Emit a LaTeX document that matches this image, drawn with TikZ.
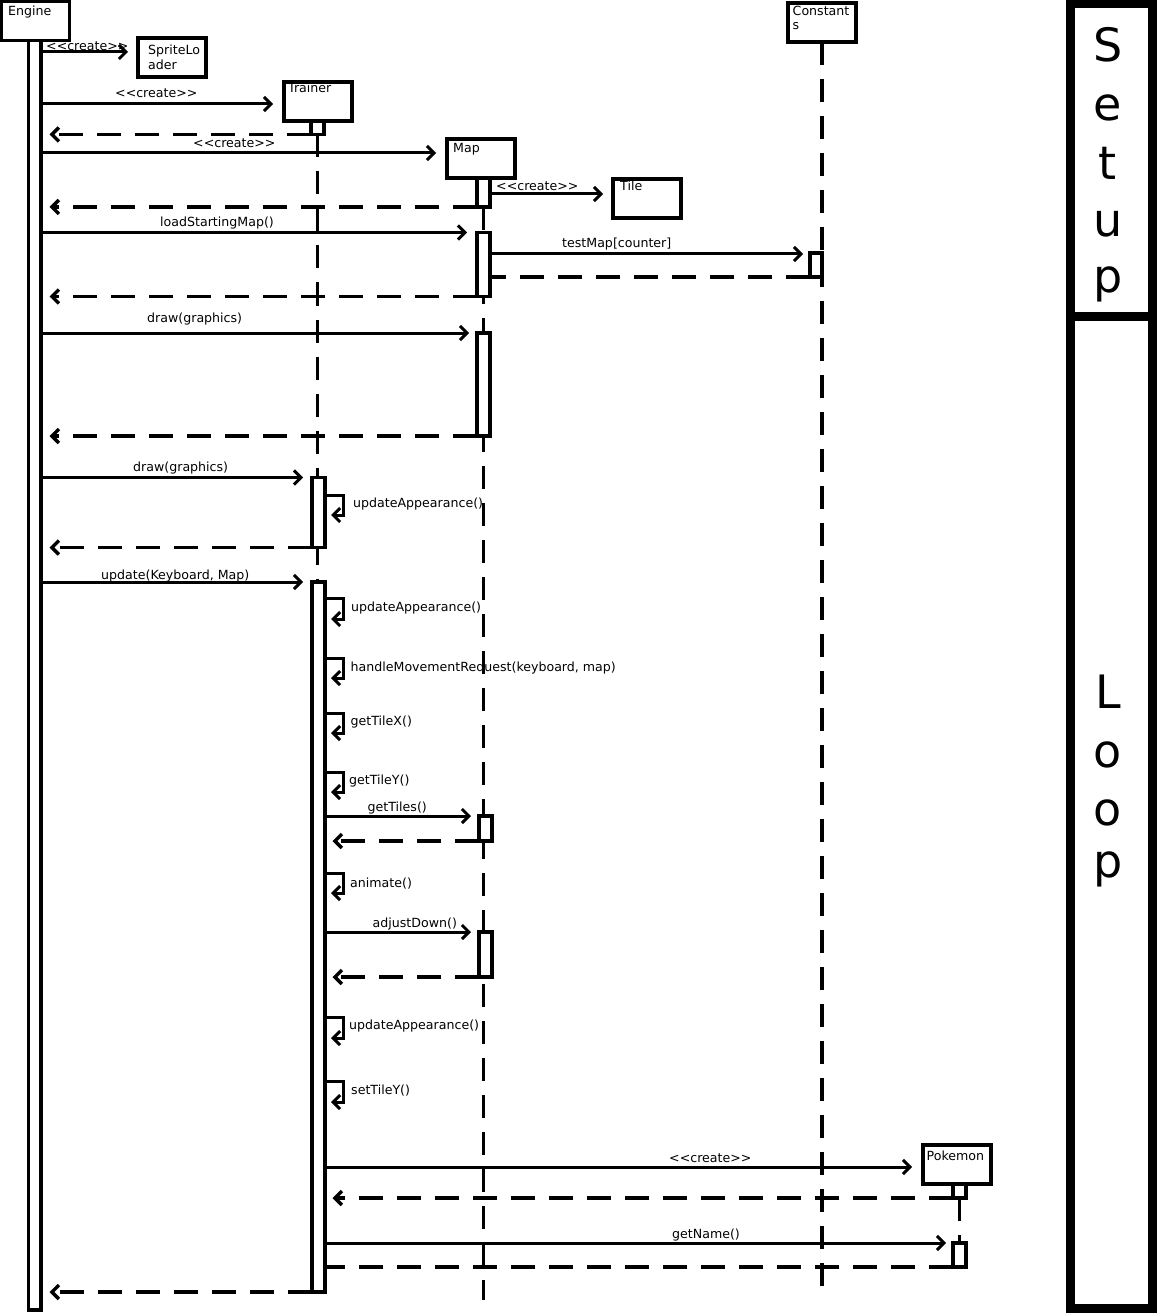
\documentclass[tikz,border=0pt]{standalone}
\usepackage{fontspec}
\setmainfont{DejaVu Sans}
\usetikzlibrary{arrows.meta}
\newcommand{\crt}{<{}<create>{}>}
\begin{document}
\begin{tikzpicture}[x=1pt,y=-1pt,
  obj/.style={draw, line width=3.5pt, fill=white, minimum width=68pt, minimum height=39pt, inner sep=0pt, outer sep=0pt, anchor=north west},
  act/.style={draw, line width=3.5pt, fill=white, minimum width=13pt, inner sep=0pt, outer sep=0pt, anchor=north west},
  msg/.style={line width=3pt, -{Straight Barb[length=7pt,width=14pt]}},
  ret/.style={line width=3.5pt, dash pattern=on 24pt off 14pt, -{Straight Barb[length=7pt,width=14pt]}},
  retn/.style={line width=3.5pt, dash pattern=on 24pt off 14pt},
  life/.style={line width=3.5pt, dash pattern=on 23pt off 14pt},
  lbl/.style={font=\fontsize{12.6}{15}\selectfont, inner sep=0pt, anchor=base west},
  big/.style={font=\fontsize{46}{50}\selectfont, inner sep=0pt, anchor=base},
  frame/.style={draw, line width=9pt, inner sep=0pt, outer sep=0pt, anchor=north west, minimum width=82pt}
]
\useasboundingbox (0,0) rectangle (1157,1313);

% ---------- object boxes (placed first so lifelines can refer to them)
\node[obj] (engine) at (1.5,1.5) {};
\node[obj] (sl) at (138,38) {};
\node[obj] (trainer) at (284,82) {};
\node[obj] (map) at (447,139) {};
\node[obj] (tile) at (613,179) {};
\node[obj] (const) at (788,3) {};
\node[obj] (poke) at (923,1145) {};

% ---------- lifelines
\draw[life] (317.5,134.5) -- (317.5,1292);
\draw[life] (483.5,207) -- (483.5,1300);
\draw[life] (const.south) -- (const.south |- 0,1300);
\draw[life] (959.5,1198) -- (959.5,1243);

% ---------- activation bars
\node[act, minimum width=12.5pt, minimum height=1270.5pt] (engbar) at (28.5,39.5) {};
\node[act, minimum height=14pt] (tb0) at (311,120.5) {};
\node[act, minimum height=29pt] (mb0) at (477,178) {};
\node[act, minimum height=64pt] (mb1) at (477,232.5) {};
\node[act, minimum width=12pt, minimum height=24pt] (cb1) at (810,253) {};
\node[act, minimum height=103pt] (mb2) at (477,333) {};
\node[act, minimum height=70pt] (tb1) at (312,477.5) {};
\node[act, minimum height=710pt] (tb2) at (312,582) {};
\node[act, minimum height=25pt] (mb3) at (479,816) {};
\node[act, minimum height=45pt] (mb4) at (479,932) {};
\node[act, minimum height=14pt] (pb0) at (953,1184) {};
\node[act, minimum height=24pt] (pb1) at (953,1243) {};

% redraw object boxes on top of bars
\node[obj] (engine2) at (1.5,1.5) {};
\node[obj] (trainer2) at (284,82) {};
\node[obj] (map2) at (447,139) {};
\node[obj] (const2) at (788,3) {};
\node[obj] (poke2) at (923,1145) {};

% ---------- object labels
\node[lbl] (engineL) at (8,16) {Engine};
\node[lbl] (slL1) at (148,55) {SpriteLo};
\node[lbl] (slL2) at (148,70) {ader};
\node[lbl] (trainerL) at (288,93) {Trainer};
\node[lbl] (mapL) at (453,152.5) {Map};
\node[lbl] (tileL) at (620,190.5) {Tile};
\node[lbl] (constL1) at (792.5,16) {Constant};
\node[lbl] (constL2) at (792.5,30) {s};
\node[lbl] (pokeL) at (926.5,1160) {Pokemon};

% ---------- messages (setup)
\draw[msg, shorten >=10pt] (engbar.east |- 0,52) -- (sl.west |- 0,52);
\node[lbl] (m1) at (46,51) {\crt};
\draw[msg, shorten >=11pt] (engbar.east |- 0,104) -- (trainer.west |- 0,104);
\node[lbl] (m2) at (115,98) {\crt};
\draw[ret, shorten >=8.5pt] (tb0.south west) -- (engbar.east |- tb0.south west);
\draw[msg, shorten >=11pt] (engbar.east |- 0,153) -- (map.west |- 0,153);
\node[lbl] (m3) at (193,148) {\crt};
\draw[msg, shorten >=10pt] (mb0.east |- 0,194) -- (tile.west |- 0,194);
\node[lbl] (m4) at (496,191) {\crt};
\draw[ret, shorten >=8.5pt] (mb0.south west) -- (engbar.east |- mb0.south west);

\draw[msg, shorten >=10pt] (engbar.east |- mb1.north west) -- (mb1.north west);
\node[lbl] (m5) at (160,227) {loadStartingMap()};
\draw[msg, shorten >=7pt] (mb1.east |- 0,254) -- (cb1.west |- 0,254);
\node[lbl] (m6) at (562,248) {testMap[counter]};
\draw[retn] (cb1.south west) -- (mb1.east |- cb1.south west);
\draw[ret, shorten >=8.5pt] (mb1.south west) -- (engbar.east |- mb1.south west);

\draw[msg, shorten >=8pt] (engbar.east |- mb2.north west) -- (mb2.north west);
\node[lbl] (m7) at (147,322) {draw(graphics)};
\draw[ret, shorten >=8.5pt] (mb2.south west) -- (engbar.east |- mb2.south west);

% ---------- messages (loop)
\draw[msg, shorten >=9pt] (engbar.east |- tb1.north west) -- (tb1.north west);
\node[lbl] (m8) at (133,471) {draw(graphics)};
\draw[msg] (tb1.east |- 0,495) -- ++(18,0) -- ++(0,20) -- ++(-12,0);
\node[lbl] (s1) at (353,507) {updateAppearance()};
\draw[ret, shorten >=8.5pt] (tb1.south west) -- (engbar.east |- tb1.south west);

\draw[msg, shorten >=9pt] (engbar.east |- tb2.north west) -- (tb2.north west);
\node[lbl] (m9) at (101,579) {update(Keyboard, Map)};
\draw[msg] (tb2.east |- 0,598) -- ++(18,0) -- ++(0,21) -- ++(-12,0);
\node[lbl] (s2) at (351,611.5) {updateAppearance()};
\draw[msg] (tb2.east |- 0,658) -- ++(18,0) -- ++(0,20) -- ++(-12,0);
\node[lbl] (s3) at (350.5,671) {handleMovementRequest(keyboard, map)};
\draw[msg] (tb2.east |- 0,713) -- ++(18,0) -- ++(0,20) -- ++(-12,0);
\node[lbl] (s4) at (350.5,725) {getTileX()};
\draw[msg] (tb2.east |- 0,772) -- ++(18,0) -- ++(0,20) -- ++(-12,0);
\node[lbl] (s5) at (349,784) {getTileY()};

\draw[msg, shorten >=8pt] (tb2.east |- mb3.north west) -- (mb3.north west);
\node[lbl] (m10) at (367.5,811) {getTiles()};
\draw[ret, shorten >=7.5pt] (mb3.south west) -- (tb2.east |- mb3.south west);

\draw[msg] (tb2.east |- 0,873) -- ++(18,0) -- ++(0,20) -- ++(-12,0);
\node[lbl] (s6) at (350,887) {animate()};

\draw[msg, shorten >=8pt] (tb2.east |- mb4.north west) -- (mb4.north west);
\node[lbl] (m11) at (372.5,927) {adjustDown()};
\draw[ret, shorten >=7.5pt] (mb4.south west) -- (tb2.east |- mb4.south west);

\draw[msg] (tb2.east |- 0,1017) -- ++(18,0) -- ++(0,21) -- ++(-12,0);
\node[lbl] (s7) at (349,1029) {updateAppearance()};
\draw[msg] (tb2.east |- 0,1081) -- ++(18,0) -- ++(0,21) -- ++(-12,0);
\node[lbl] (s8) at (351,1094) {setTileY()};

\draw[msg, shorten >=11pt] (tb2.east |- 0,1167) -- (poke.west |- 0,1167);
\node[lbl] (m12) at (669,1162) {\crt};
\draw[ret, shorten >=7.5pt] (pb0.south west) -- (tb2.east |- pb0.south west);
\draw[msg, shorten >=7pt] (tb2.east |- pb1.north west) -- (pb1.north west);
\node[lbl] (m13) at (672,1238) {getName()};
\draw[retn] (pb1.south west) -- (tb2.east |- pb1.south west);
\draw[ret, shorten >=8.5pt] (tb2.south west) -- (engbar.east |- tb2.south west);

% ---------- phase frames
\node[frame, minimum height=313pt] (setupbox) at (1070.5,3.5) {};
\node[frame, minimum height=992pt] (loopbox) at (1070.5,316.5) {};
\node[big] (ls1) at (1108,62) {S};
\node[big] (ls2) at (1108,121) {e};
\node[big] (ls3) at (1108,180) {t};
\node[big] (ls4) at (1108,237) {u};
\node[big] (ls5) at (1108,293) {p};
\node[big] (ll1) at (1108,708) {L};
\node[big] (ll2) at (1108,767) {o};
\node[big] (ll3) at (1108,825) {o};
\node[big] (ll4) at (1108,877) {p};
\end{tikzpicture}
\end{document}
